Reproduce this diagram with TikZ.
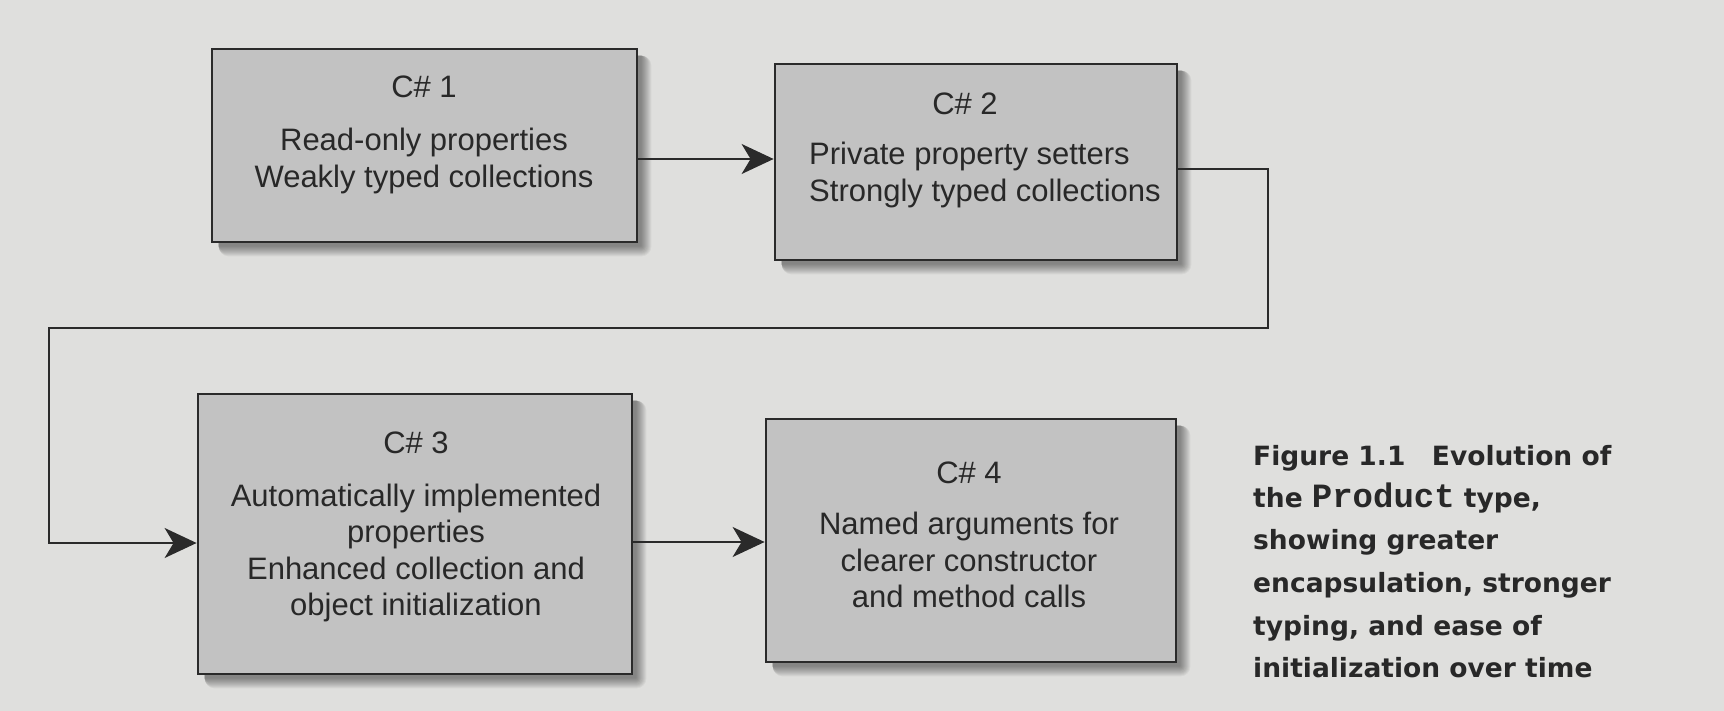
\documentclass[tikz,border=0pt]{standalone}
\usepackage{fontspec}
\setmainfont{Liberation Sans}
\newfontfamily\capfont{DejaVu Sans}
\newfontfamily\capmono{Liberation Mono}
\usetikzlibrary{arrows.meta}
\definecolor{bgc}{RGB}{223,223,221}
\definecolor{boxc}{RGB}{194,194,194}
\definecolor{linec}{RGB}{42,42,42}
\definecolor{txtc}{RGB}{40,40,40}
\pgfdeclarelayer{back}
\pgfdeclarelayer{shade}
\pgfdeclarelayer{conn}
\pgfsetlayers{back,shade,conn,main}
\begin{document}
\begin{tikzpicture}[x=1pt,y=-1pt,
  box/.style={draw=linec, line width=2.8pt, fill=boxc, inner sep=0pt},
  txt/.style={text=txtc, inner sep=0pt, font=\fontsize{31}{36.5}\selectfont},
  captxt/.style={text=txtc, inner sep=0pt, anchor=base west, font=\capfont\bfseries\fontsize{26.5}{42}\selectfont},
  conn/.style={draw=linec, line width=1.8pt},
  arr/.style={conn, -{Stealth[length=32pt,width=30pt,inset=9pt]}}]
\begin{pgfonlayer}{back}
\fill[bgc] (0,0) rectangle (1724,711);
\end{pgfonlayer}
\useasboundingbox (0,0) rectangle (1724,711);

\node[box, minimum width=425pt, minimum height=193pt] (b1) at (424.5,145.5) {};
\node[box, minimum width=402pt, minimum height=196pt] (b2) at (976,162) {};
\node[box, minimum width=434pt, minimum height=280pt] (b3) at (415,534) {};
\node[box, minimum width=410pt, minimum height=243pt] (b4) at (971,540.5) {};

\begin{pgfonlayer}{shade}
\foreach \n in {b1,b2,b3,b4}{
  \foreach \r in {0,1,...,10}{
    \fill[black, opacity=0.045, rounded corners={\r pt+0.1pt}]
      ([xshift=8pt, yshift=-8pt]\n.north west) rectangle
      ([xshift={3pt+\r pt}, yshift={-3pt-\r pt}]\n.south east);
  }
}
\end{pgfonlayer}

\node[txt] (h1) at (424,87) {C\# 1};
\node[txt, align=center] (t1) at (424,161) {Read-only properties\\Weakly typed collections};
\node[txt] (h2) at (965,104) {C\# 2};
\node[txt, align=left] (t2) at (985,175) {Private property setters\\Strongly typed collections};
\node[txt] (h3) at (416,443) {C\# 3};
\node[txt, align=center] (t3) at (416,553) {Automatically implemented\\properties\\Enhanced collection and\\object initialization};
\node[txt] (h4) at (969,473) {C\# 4};
\node[txt, align=center] (t4) at (969,560) {Named arguments for\\clearer constructor\\and method calls};

\node[captxt] (c1) at (1253,465) {Figure 1.1\hspace{1.0em}Evolution of};
\node[captxt] (c2) at (1253,507) {the {\capmono\bfseries\fontsize{34}{42}\selectfont Product} type,};
\node[captxt] (c3) at (1253,549) {showing greater};
\node[captxt] (c4) at (1253,592) {encapsulation, stronger};
\node[captxt] (c5) at (1253,635) {typing, and ease of};
\node[captxt] (c6) at (1253,677) {initialization over time};

\coordinate (a1) at (0,159);
\coordinate (lp1) at (1268,169);
\coordinate (lp2) at (1268,328);
\coordinate (lp3) at (49,328);
\coordinate (lp4) at (49,543);
\coordinate (a2) at (0,542);
\begin{pgfonlayer}{conn}
\draw[arr] (b1.east |- a1) -- (b2.west |- a1);
\draw[arr] (b2.east |- lp1) -- (lp1) -- (lp2) -- (lp3) -- (lp4) -- (b3.west |- lp4);
\draw[arr] (b3.east |- a2) -- (b4.west |- a2);
\end{pgfonlayer}
\end{tikzpicture}
\end{document}
